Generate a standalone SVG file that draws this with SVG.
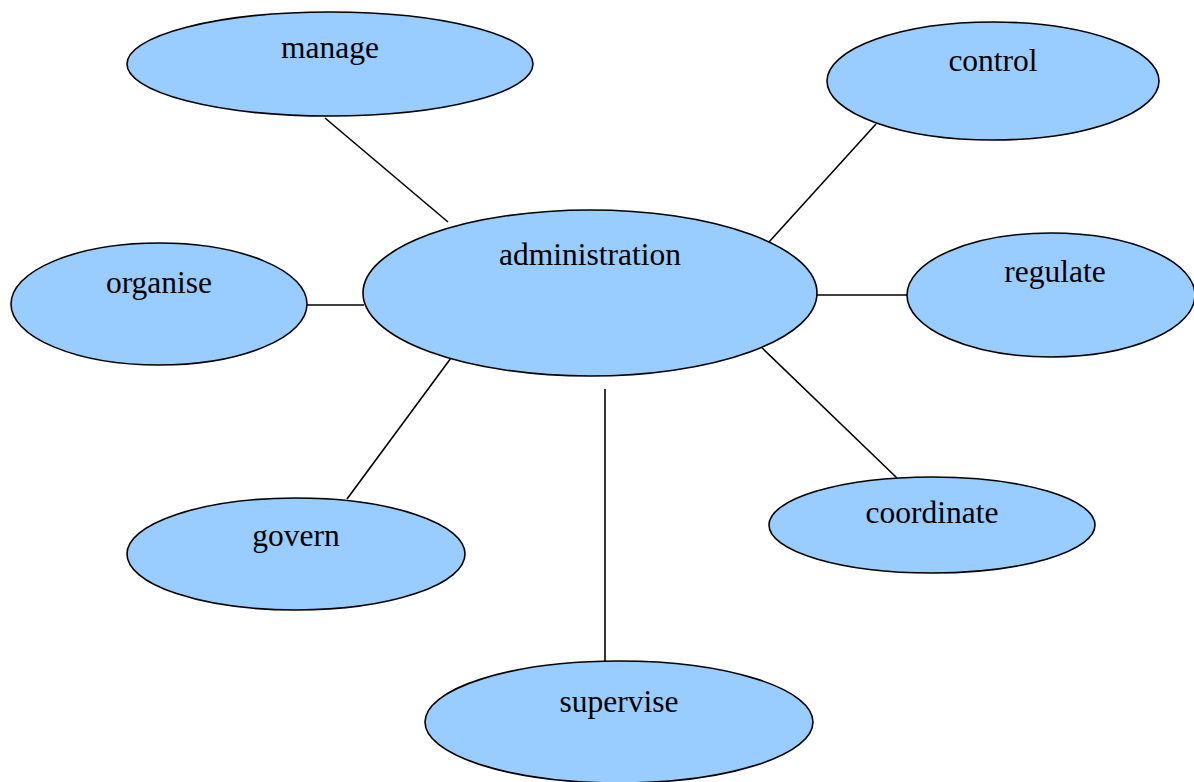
<svg xmlns="http://www.w3.org/2000/svg" width="1194" height="782" viewBox="0 0 1194 782">
<style>
.n ellipse{fill:#99ccff;stroke:#000;stroke-width:1.6}
.n text{font-family:"Liberation Serif","Times New Roman",serif;font-size:31.5px;fill:#000;text-anchor:middle}
.c line{stroke:#000;stroke-width:1.6}
</style>
<rect width="1194" height="782" fill="#fff"/>
<g class="c">
<line x1="325" y1="118" x2="448" y2="222"/>
<line x1="876" y1="124" x2="769" y2="242"/>
<line x1="307" y1="305" x2="364" y2="305"/>
<line x1="817" y1="295" x2="907" y2="295"/>
<line x1="347" y1="499" x2="451" y2="358"/>
<line x1="897" y1="478" x2="757" y2="343"/>
<line x1="605" y1="389" x2="605" y2="662"/>
</g>
<g id="manage" class="n"><ellipse cx="330" cy="64" rx="203" ry="52"/><text x="330" y="58">manage</text></g>
<g id="control" class="n"><ellipse cx="993" cy="81" rx="166" ry="59"/><text x="993" y="71">control</text></g>
<g id="administration" class="n"><ellipse cx="590" cy="293" rx="227" ry="83"/><text x="590" y="265">administration</text></g>
<g id="organise" class="n"><ellipse cx="159" cy="304" rx="148" ry="61"/><text x="159" y="293">organise</text></g>
<g id="regulate" class="n"><ellipse cx="1051" cy="295" rx="144" ry="62"/><text x="1055" y="282">regulate</text></g>
<g id="govern" class="n"><ellipse cx="296" cy="554" rx="169" ry="56"/><text x="296" y="546">govern</text></g>
<g id="coordinate" class="n"><ellipse cx="932" cy="525" rx="163" ry="48"/><text x="932" y="523">coordinate</text></g>
<g id="supervise" class="n"><ellipse cx="619" cy="722" rx="194" ry="61"/><text x="619" y="712">supervise</text></g>
</svg>
